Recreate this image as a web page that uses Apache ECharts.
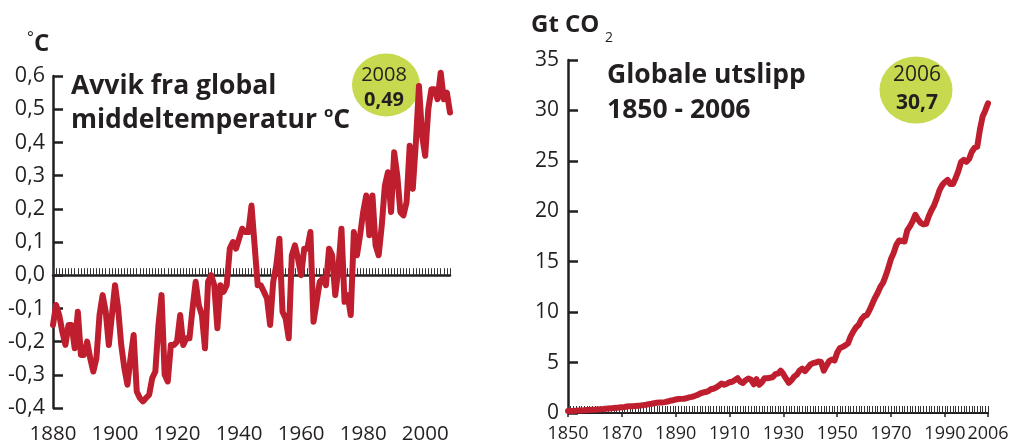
<!DOCTYPE html>
<html><head><meta charset="utf-8">
<script src="https://cdn.jsdelivr.net/npm/echarts@6/dist/echarts.min.js"></script>
<style>html,body{margin:0;padding:0;background:#fff}#c{width:1012px;height:445px}</style>
</head><body><div id="c"></div>
<script>
// ---------- data ----------
const tempStartYear = 1880;
const tempValues = [
  -0.15, -0.09, -0.12, -0.17, -0.21, -0.15, -0.15, -0.22, -0.11, -0.24,
  -0.24, -0.20, -0.25, -0.29, -0.25, -0.12, -0.06, -0.11, -0.21, -0.12,
  -0.03, -0.10, -0.21, -0.28, -0.33, -0.25, -0.18, -0.35, -0.37, -0.38,
  -0.37, -0.36, -0.31, -0.29, -0.15, -0.06, -0.30, -0.32, -0.21, -0.21,
  -0.20, -0.12, -0.21, -0.19, -0.19, -0.10, -0.02, -0.09, -0.12, -0.22,
  -0.02, 0.00, -0.03, -0.16, -0.03, -0.05, -0.03, 0.08, 0.10, 0.08,
  0.11, 0.14, 0.13, 0.13, 0.21, 0.09, -0.03, -0.03, -0.05, -0.07,
  -0.15, -0.02, 0.03, 0.11, -0.11, -0.13, -0.19, 0.06, 0.09, 0.05,
  0.00, 0.08, 0.08, 0.13, -0.14, -0.08, -0.02, -0.01, -0.03, 0.08,
  0.06, -0.06, 0.02, 0.14, -0.08, -0.06, -0.12, 0.13, 0.06, 0.12,
  0.19, 0.24, 0.12, 0.24, 0.09, 0.06, 0.15, 0.27, 0.31, 0.19,
  0.37, 0.30, 0.19, 0.18, 0.22, 0.39, 0.26, 0.40, 0.57, 0.42,
  0.36, 0.50, 0.56, 0.56, 0.53, 0.61, 0.53, 0.55, 0.49
];
const tempLabelYears = [1880, 1900, 1920, 1940, 1960, 1980, 2000];
const tempBadge = ['2008', '0,49'];

const co2StartYear = 1850;
const co2Values = [
  0.20, 0.20, 0.21, 0.23, 0.25, 0.26, 0.28, 0.29, 0.30, 0.32,
  0.33, 0.35, 0.37, 0.39, 0.42, 0.44, 0.46, 0.49, 0.51, 0.54,
  0.57, 0.60, 0.65, 0.68, 0.68, 0.70, 0.72, 0.74, 0.78, 0.82,
  0.88, 0.92, 0.97, 1.02, 1.04, 1.05, 1.08, 1.14, 1.22, 1.26,
  1.34, 1.38, 1.40, 1.42, 1.46, 1.55, 1.60, 1.68, 1.78, 1.93,
  2.02, 2.08, 2.15, 2.35, 2.40, 2.52, 2.70, 2.92, 2.80, 2.90,
  3.05, 3.10, 3.27, 3.45, 3.10, 2.98, 3.25, 3.42, 3.30, 2.85,
  3.35, 2.80, 3.05, 3.45, 3.45, 3.50, 3.55, 3.85, 3.90, 4.20,
  3.85, 3.40, 3.00, 3.25, 3.60, 3.80, 4.20, 4.40, 4.15, 4.45,
  4.80, 4.95, 5.00, 5.10, 5.05, 4.20, 4.70, 5.15, 5.30, 5.20,
  6.00, 6.45, 6.55, 6.70, 6.90, 7.60, 8.10, 8.50, 8.75, 9.30,
  9.60, 9.70, 10.20, 10.80, 11.40, 11.90, 12.50, 12.90, 13.60, 14.40,
  15.30, 15.90, 16.70, 17.10, 17.05, 17.00, 18.10, 18.50, 19.00, 19.65,
  19.20, 18.85, 18.70, 18.75, 19.50, 20.10, 20.60, 21.30, 22.10, 22.60,
  22.90, 23.10, 22.70, 22.70, 23.30, 24.00, 24.90, 25.10, 24.90, 25.20,
  25.90, 26.30, 26.40, 28.10, 29.40, 30.00, 30.70
];
const co2LabelYears = [1850, 1870, 1890, 1910, 1930, 1950, 1970, 1990, 2006];
const co2Badge = ['2006', '30,7'];

const leftTitle = ['Avvik fra global', 'middeltemperatur'];
const rightTitle = ['Globale utslipp', '1850 - 2006'];

// ---------- styles ----------
const RED = '#be1e2d', GREEN = '#c6d94f', INK = '#231f20';
const FF = "'Open Sans', sans-serif";

const tempData = tempValues.map((v, i) => [tempStartYear + i, v]);
const co2Data = co2Values.map((v, i) => [co2StartYear + i, v]);
const tempMax = tempStartYear + tempValues.length - 1;
const co2Max = co2StartYear + co2Values.length - 1;

function commaFmt(v) {
  if (Math.abs(v) < 1e-9) return '0,0';
  return v.toFixed(1).replace('.', ',');
}
const yearFmt = v => String(Math.round(v));

const chart = echarts.init(document.getElementById('c'), null, {renderer: 'canvas'});
chart.setOption({
  animation: false,
  backgroundColor: '#fff',
  grid: [
    {left: 53, top: 76, width: 397, height: 336},
    {left: 568, top: 60, width: 420, height: 353}
  ],
  xAxis: [
    { gridIndex: 0, type: 'value', min: tempStartYear, max: tempMax, position: 'bottom',
      axisLine: {show: false, onZero: false}, axisTick: {show: false}, splitLine: {show: false},
      axisLabel: {customValues: tempLabelYears, formatter: yearFmt, showMinLabel: true, showMaxLabel: true,
        margin: 16, fontSize: 20.5, fontFamily: FF, color: INK} },
    { gridIndex: 0, type: 'value', min: tempStartYear, max: tempMax, interval: 1, position: 'bottom',
      axisLine: {show: true, onZero: true, lineStyle: {color: INK, width: 2.5}},
      axisTick: {show: true, inside: true, length: 7, lineStyle: {color: '#333', width: 1}},
      axisLabel: {show: false}, splitLine: {show: false} },
    { gridIndex: 1, type: 'value', min: co2StartYear, max: co2Max, position: 'bottom',
      axisLine: {show: true, onZero: false, lineStyle: {color: INK, width: 2}},
      axisTick: {show: true, customValues: co2LabelYears, length: 4, lineStyle: {color: INK, width: 1.5}},
      splitLine: {show: false},
      axisLabel: {customValues: co2LabelYears, formatter: yearFmt, showMinLabel: true, showMaxLabel: true,
        hideOverlap: false, margin: 12, fontSize: 18, fontFamily: FF, color: INK} },
    { gridIndex: 1, type: 'value', min: co2StartYear, max: co2Max, interval: 1, position: 'bottom',
      axisLine: {show: false, onZero: false},
      axisTick: {show: true, inside: true, length: 7, lineStyle: {color: '#333', width: 1}},
      axisLabel: {show: false}, splitLine: {show: false} }
  ],
  yAxis: [
    { gridIndex: 0, type: 'value', min: -0.4, max: 0.6, interval: 0.1,
      axisLine: {show: true, lineStyle: {color: INK, width: 2.5}},
      axisTick: {show: true, inside: true, length: 10, lineStyle: {color: INK, width: 2.5}},
      splitLine: {show: false},
      axisLabel: {formatter: commaFmt, margin: 8, fontSize: 21.5, fontFamily: FF, color: INK} },
    { gridIndex: 1, type: 'value', min: 0, max: 35, interval: 5,
      axisLine: {show: true, lineStyle: {color: INK, width: 2.5}},
      axisTick: {show: true, inside: true, length: 10, lineStyle: {color: INK, width: 2.5}},
      splitLine: {show: false},
      axisLabel: {margin: 9, fontSize: 21, fontFamily: FF, color: INK} }
  ],
  series: [
    { type: 'line', xAxisIndex: 0, yAxisIndex: 0, data: tempData, symbol: 'none', clip: false,
      lineStyle: {color: RED, width: 6, cap: 'round', join: 'round'}, z: 5 },
    { type: 'line', xAxisIndex: 2, yAxisIndex: 1, data: co2Data, symbol: 'none', clip: false,
      lineStyle: {color: RED, width: 6, cap: 'round', join: 'round'}, z: 5 }
  ],
  graphic: [
    // left unit
    { type: 'text', x: 27, y: 38, style: {text: '°', font: '16px ' + FF, fill: INK, align: 'left', verticalAlign: 'middle'} },
    { type: 'text', x: 34, y: 44, style: {text: 'C', font: 'bold 24px ' + FF, fill: INK, align: 'left', verticalAlign: 'middle'} },
    // left title
    { type: 'text', x: 71, y: 86, style: {text: leftTitle[0], font: 'bold 26.5px ' + FF, fill: INK, align: 'left', verticalAlign: 'middle'} },
    { type: 'text', x: 71, y: 120.5, style: {
        text: '{b|' + leftTitle[1] + ' }{o|o}{b|C}', align: 'left', verticalAlign: 'middle',
        rich: { b: {font: 'bold 26.5px ' + FF, fill: INK, lineHeight: 30, verticalAlign: 'middle'},
                o: {font: 'bold 15px ' + FF, fill: INK, lineHeight: 16, verticalAlign: 'top'} } } },
    // left badge
    { type: 'circle', x: 386, y: 85, scaleY: 63 / 68, shape: {cx: 0, cy: 0, r: 34}, style: {fill: GREEN}, z: 1 },
    { type: 'text', x: 384, y: 75, z: 2, style: {text: tempBadge[0], font: '20px ' + FF, fill: INK, align: 'center', verticalAlign: 'middle'} },
    { type: 'text', x: 384, y: 100, z: 2, style: {text: tempBadge[1], font: 'bold 20px ' + FF, fill: INK, align: 'center', verticalAlign: 'middle'} },
    // right unit
    { type: 'text', x: 531, y: 25, style: {text: 'Gt CO', font: 'bold 24px ' + FF, fill: INK, align: 'left', verticalAlign: 'middle'} },
    { type: 'text', x: 605, y: 38, style: {text: '2', font: '14px ' + FF, fill: INK, align: 'left', verticalAlign: 'middle'} },
    // right title
    { type: 'text', x: 607, y: 75, style: {text: rightTitle[0], font: 'bold 26.5px ' + FF, fill: INK, align: 'left', verticalAlign: 'middle'} },
    { type: 'text', x: 607, y: 110, style: {text: rightTitle[1], font: 'bold 26.5px ' + FF, fill: INK, align: 'left', verticalAlign: 'middle'} },
    // right badge
    { type: 'circle', x: 916, y: 90, scaleY: 67 / 73, shape: {cx: 0, cy: 0, r: 36.5}, style: {fill: GREEN}, z: 1 },
    { type: 'text', x: 917, y: 75, z: 2, style: {text: co2Badge[0], font: '21px ' + FF, fill: INK, align: 'center', verticalAlign: 'middle'} },
    { type: 'text', x: 917, y: 103, z: 2, style: {text: co2Badge[1], font: 'bold 21px ' + FF, fill: INK, align: 'center', verticalAlign: 'middle'} }
  ]
});
</script>
</body></html>
